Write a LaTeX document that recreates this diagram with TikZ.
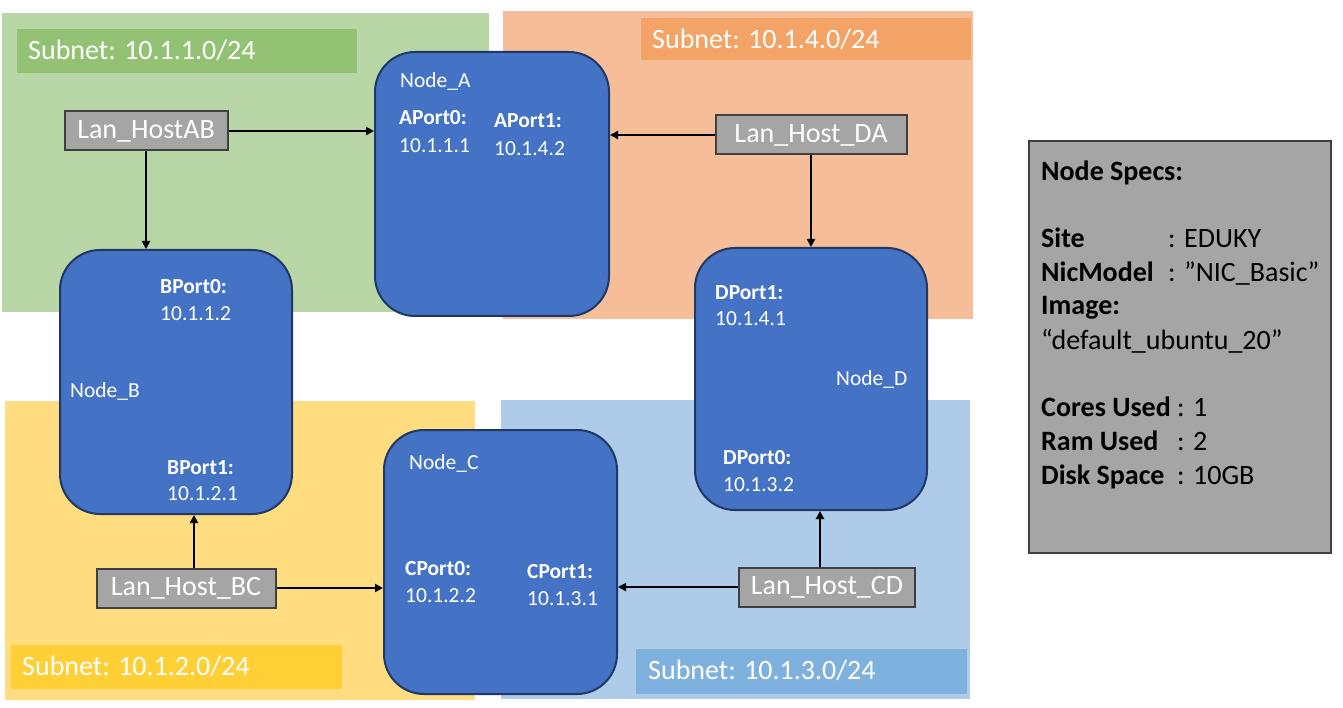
\documentclass[tikz,border=0pt]{standalone}
\usepackage{fontspec}
\setmainfont{Carlito}
\usetikzlibrary{arrows.meta}
\definecolor{gbg}{HTML}{B8D6A6}
\definecolor{glab}{HTML}{93C274}
\definecolor{obg}{HTML}{F5BE98}
\definecolor{olab}{HTML}{F3A365}
\definecolor{ybg}{HTML}{FFDC7F}
\definecolor{ylab}{HTML}{FFCF36}
\definecolor{bbg}{HTML}{AECCE9}
\definecolor{blab}{HTML}{7FB1DE}
\definecolor{nfill}{HTML}{4472C4}
\definecolor{nline}{HTML}{1F3864}
\definecolor{hfill}{HTML}{A5A5A5}
\definecolor{hline}{HTML}{404040}
\tikzset{
  big/.style={font=\fontsize{28}{33.7}\selectfont},
  small/.style={font=\fontsize{21.5}{26}\selectfont},
  sublabel/.style={anchor=base west, text=white, big, inner sep=0pt},
  vm/.style={draw=nline, line width=2pt, fill=nfill, rounded corners=40pt, inner sep=0pt},
  ntext/.style={anchor=base west, text=white, small, inner sep=0pt},
  host/.style={draw=hline, line width=2pt, fill=hfill, text=white, big, inner sep=0pt, minimum height=39pt},
  link/.style={line width=2pt, -{Triangle[width=8pt,length=8pt]}},
  spec/.style={anchor=base west, text=black, big, inner sep=0pt},
}
\begin{document}
\begin{tikzpicture}[x=1pt,y=-1pt]
\useasboundingbox (0,0) rectangle (1343,708);
% subnet backgrounds
\fill[gbg] (2,13) rectangle (489,312);
\fill[obg] (503,11) rectangle (973,319);
\fill[ybg] (5,401) rectangle (475,700);
\fill[bbg] (501,400) rectangle (970,699);
\fill[glab] (17,29) rectangle (357,73);
\fill[olab] (641,18) rectangle (971,60);
\fill[ylab] (11,645) rectangle (342,689);
\fill[blab] (636,649) rectangle (967,694);
\node[sublabel] (s1) at (28,60) {Subnet: 10.1.1.0/24};
\node[sublabel] (s4) at (652,49) {Subnet: 10.1.4.0/24};
\node[sublabel] (s2) at (22,675) {Subnet: 10.1.2.0/24};
\node[sublabel] (s3) at (648,679) {Subnet: 10.1.3.0/24};
% VM nodes
\node[vm, minimum width=234pt, minimum height=264pt] (na) at (492,184) {};
\node[vm, minimum width=232pt, minimum height=264pt] (nb) at (176,382) {};
\node[vm, minimum width=233pt, minimum height=264pt] (nc) at (500.5,562) {};
\node[vm, minimum width=232pt, minimum height=262pt] (nd) at (811,379) {};
% node texts
\node[ntext] (ta) at (400,88) {Node\_A};
\node[ntext] (ta0) at (399,125) {\bfseries APort0:};
\node[ntext] (ta0i) at (399,153) {10.1.1.1};
\node[ntext] (ta1) at (494,128) {\bfseries APort1:};
\node[ntext] (ta1i) at (494,156) {10.1.4.2};
\node[ntext] (tb0) at (160,294) {\bfseries BPort0:};
\node[ntext] (tb0i) at (160,320) {10.1.1.2};
\node[ntext] (tb) at (70,397) {Node\_B};
\node[ntext] (tb1) at (167,474) {\bfseries BPort1:};
\node[ntext] (tb1i) at (167,500) {10.1.2.1};
\node[ntext] (tc) at (409,469) {Node\_C};
\node[ntext] (tc0) at (405,575) {\bfseries CPort0:};
\node[ntext] (tc0i) at (405,602) {10.1.2.2};
\node[ntext] (tc1) at (527,578) {\bfseries CPort1:};
\node[ntext] (tc1i) at (527,605) {10.1.3.1};
\node[ntext] (td1) at (715,300) {\bfseries DPort1:};
\node[ntext] (td1i) at (715,326) {10.1.4.1};
\node[ntext] (td) at (836,385) {Node\_D};
\node[ntext] (td0) at (723,464) {\bfseries DPort0:};
\node[ntext] (td0i) at (723,491) {10.1.3.2};
% hosts
\node[host, minimum width=163pt] (hab) at (146,131) {Lan\_HostAB};
\node[host, minimum width=191pt] (hda) at (811,135) {Lan\_Host\_DA};
\node[host, minimum width=179pt] (hbc) at (186,588) {Lan\_Host\_BC};
\node[host, minimum width=176pt] (hcd) at (827,587) {Lan\_Host\_CD};
% links
\draw[link] (hab.east) -- (hab.east -| na.west);
\draw[link] (hab.south) -- (hab.south |- nb.north);
\draw[link] (hda.west) -- (hda.west -| na.east);
\draw[link] (hda.south) -- (hda.south |- nd.north);
\draw[link] ([xshift=8pt]hbc.north) -- ([xshift=8pt]hbc.north |- nb.south);
\draw[link] (hbc.east) -- (hbc.east -| nc.west);
\draw[link] (hcd.west) -- (hcd.west -| nc.east);
\draw[link] ([xshift=-7pt]hcd.north) -- ([xshift=-7pt]hcd.north |- nd.south);
% specs box
\node[draw=hline, line width=2pt, fill=hfill, minimum width=302pt, minimum height=412pt, inner sep=0pt] (specs) at (1180,347) {};
\node[spec] (p0) at (1041,181) {\bfseries Node Specs:};
\node[spec] (p1) at (1041,248) {\makebox[127pt][l]{\bfseries Site}: EDUKY};
\node[spec] (p2) at (1041,282) {\makebox[127pt][l]{\bfseries NicModel}: ”NIC\_Basic”};
\node[spec] (p3) at (1041,315) {\bfseries Image:};
\node[spec] (p4) at (1041,349) {“default\_ubuntu\_20”};
\node[spec] (p5) at (1041,416) {\makebox[136pt][l]{\bfseries Cores Used}: 1};
\node[spec] (p6) at (1041,450) {\makebox[136pt][l]{\bfseries Ram Used}: 2};
\node[spec] (p7) at (1041,484) {\makebox[136pt][l]{\bfseries Disk Space}: 10GB};
\end{tikzpicture}
\end{document}
